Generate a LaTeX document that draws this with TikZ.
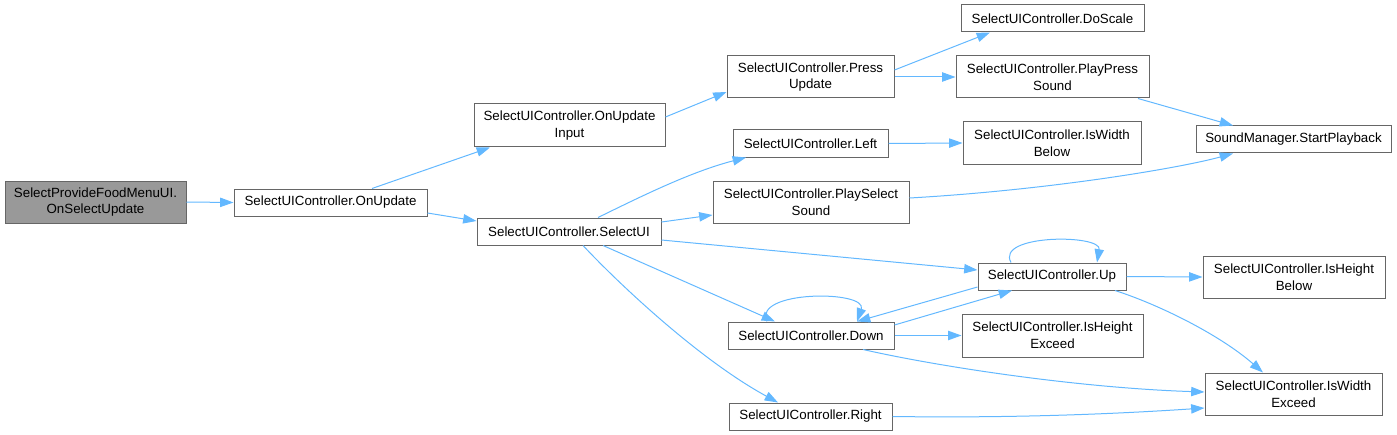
\documentclass[tikz,border=0pt]{standalone}
\usepackage{fontspec}
\setmainfont{Liberation Sans}
\usetikzlibrary{arrows.meta,calc}
\definecolor{edgeblue}{HTML}{63B8FF}
\definecolor{boxline}{HTML}{666666}
\definecolor{rootfill}{HTML}{999999}
\begin{document}
\begin{tikzpicture}[x=0.75pt,y=-0.75pt,
  box/.style={draw=boxline,line width=0.75pt,fill=white,rectangle,inner sep=0pt,
    align=center,font=\fontsize{10pt}{12.5pt}\selectfont,text=black},
  sz/.style 2 args={minimum width=#1*0.75pt,minimum height=#2*0.75pt},
  edge/.style={draw=edgeblue,line width=0.75pt,-{Triangle[length=10pt,width=7pt]}}]
\useasboundingbox (0,0) rectangle (1397,435);
\node[box,sz={181}{42},fill=rootfill] (n1) at (95.5,202) {SelectProvideFoodMenuUI.\\OnSelectUpdate};
\node[box,sz={193}{27}] (n2) at (330.5,202.5) {SelectUIController.OnUpdate};
\node[box,sz={191}{43}] (n3) at (569.5,125.5) {SelectUIController.OnUpdate\\Input};
\node[box,sz={184}{27}] (n4) at (569,231.5) {SelectUIController.SelectUI};
\node[box,sz={167}{42}] (n5) at (810.5,77) {SelectUIController.Press\\Update};
\node[box,sz={155}{27}] (n6) at (810.5,143.5) {SelectUIController.Left};
\node[box,sz={196}{42}] (n7) at (811,202) {SelectUIController.PlaySelect\\Sound};
\node[box,sz={183}{27}] (n8) at (1052.5,18.5) {SelectUIController.DoScale};
\node[box,sz={193}{42}] (n9) at (1052.5,77) {SelectUIController.PlayPress\\Sound};
\node[box,sz={178}{42}] (n10) at (1052,143) {SelectUIController.IsWidth\\Below};
\node[box,sz={195}{27}] (n11) at (1293.5,139.5) {SoundManager.StartPlayback};
\node[box,sz={148}{27}] (n12) at (1052,276.5) {SelectUIController.Up};
\node[box,sz={166}{27}] (n13) at (811,335.5) {SelectUIController.Down};
\node[box,sz={181}{43}] (n14) at (1052.5,335.5) {SelectUIController.IsHeight\\Exceed};
\node[box,sz={182}{42}] (n15) at (1294,277) {SelectUIController.IsHeight\\Below};
\node[box,sz={177}{42}] (n16) at (1293.5,394) {SelectUIController.IsWidth\\Exceed};
\node[box,sz={163}{27}] (n17) at (810.5,416.5) {SelectUIController.Right};

\draw[edge] (n1.east) -- (n2.west);
\draw[edge] ($(n2.north)+(41.5,0)$) -- ($(n3.south)+(-79.5,0)$);
\draw[edge] ($(n2.east)+(0,10.5)$) -- ($(n4.west)+(0,-10.5)$);
\draw[edge] ($(n3.east)+(0,-8.5)$) -- ($(n5.west)+(0,15)$);
\draw[edge] ($(n4.north)+(29,0)$) .. controls (640,197) and (690,172) .. ($(n6.south)+(-64.5,0)$);
\draw[edge] ($(n4.east)+(0,-9.5)$) -- ($(n7.west)+(0,13)$);
\draw[edge] ($(n4.east)+(0,8.5)$) -- ($(n12.west)+(0,-6.5)$);
\draw[edge] ($(n4.south)+(34,0)$) -- ($(n13.north)+(-36,0)$);
\draw[edge] ($(n4.south)+(14,0)$) .. controls (620,285) and (700,360) .. ($(n17.north)+(-32.5,0)$);
\draw[edge] ($(n5.east)+(0,-7)$) -- ($(n8.south)+(-62.5,0)$);
\draw[edge] (n5.east) -- (n9.west);
\draw[edge] ($(n9.south)+(85.5,0)$) -- ($(n11.north)+(-60.5,0)$);
\draw[edge] (n6.east) -- (n10.west);
\draw[edge] ($(n7.east)+(0,-4)$) .. controls (1050,190) and (1180,168) .. ($(n11.south)+(-60.5,0)$);
\draw[edge] ($(n12.north)+(-41,0)$) .. controls (995,234) and (1102,234) .. ($(n12.north)+(45,0)$);
\draw[edge] ($(n12.west)+(0,10.5)$) -- ($(n13.north)+(46,0)$);
\draw[edge] ($(n13.east)+(0,-10.5)$) -- ($(n12.south)+(-40,0)$);
\draw[edge] ($(n13.north)+(-44,0)$) .. controls (752,290) and (868,290) .. ($(n13.north)+(46,0)$);
\draw[edge] (n13.east) -- (n14.west);
\draw[edge] ($(n13.south)+(52,0)$) .. controls (940,367) and (1080,388) .. ($(n16.west)+(0,-2)$);
\draw[edge] (n12.east) -- (n15.west);
\draw[edge] ($(n12.south)+(63,0)$) .. controls (1160,305) and (1220,335) .. ($(n16.north)+(-30.5,0)$);
\draw[edge] (n17.east) .. controls (1000,418) and (1100,415) .. ($(n16.west)+(0,14)$);
\end{tikzpicture}
\end{document}
